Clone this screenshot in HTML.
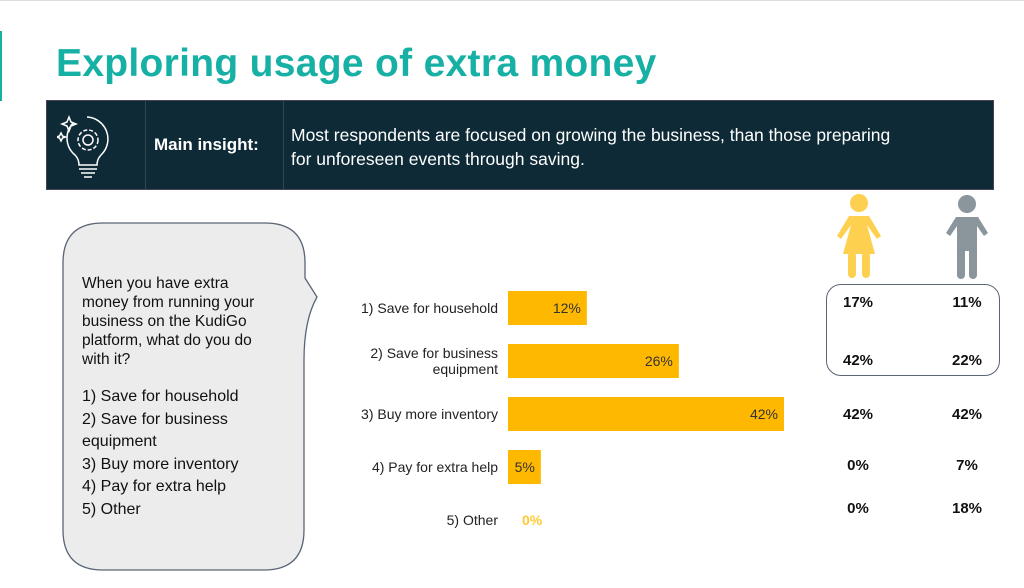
<!DOCTYPE html>
<html><head><meta charset="utf-8"><style>
body{margin:0;width:1024px;height:588px;background:#fff;position:relative;overflow:hidden;font-family:"Liberation Sans",sans-serif}
.a{position:absolute}
</style></head><body>
<div class="a" style="left:0;top:0;width:1024px;height:1px;background:#ddd"></div>
<div class="a" style="left:0;top:31px;width:2px;height:70px;background:#17b0a5"></div>
<div class="a" style="left:56px;top:42px;font-size:39px;font-weight:bold;color:#17b0a5;letter-spacing:0.3px">Exploring usage of extra money</div>
<div class="a" style="left:46px;top:100px;width:946px;height:88px;background:#0d2a36;border:1px solid #445">
 <div class="a" style="left:98px;top:0;width:1px;height:88px;background:#2d4651"></div>
 <div class="a" style="left:236px;top:0;width:1px;height:88px;background:#2d4651"></div>
 <svg class="a" style="left:10px;top:10px" width="60" height="70" viewBox="0 0 60 70" fill="none" stroke="#fff" stroke-width="1.5">
  <path d="M30 6 A22 22 0 0 1 44 44 Q40 48 40 54 H22 Q22 48 18 44 A22 22 0 0 1 16 12"/>
  <path d="M22 58 H40 M24 62 H38 M27 66 H35"/>
  <circle cx="31" cy="29" r="5"/><circle cx="31" cy="29" r="10" stroke-dasharray="4 2"/>
  <path d="M12 6 L14 11 L19 13 L14 15 L12 20 L10 15 L5 13 L10 11Z"/>
  <path d="M4 22 L5.5 25 L8.5 26 L5.5 27 L4 30 L2.5 27 L-0.5 26 L2.5 25Z"/>
 </svg>
 <div class="a" style="left:107px;top:34px;color:#fff;font-weight:bold;font-size:17px">Main insight:</div>
 <div class="a" style="left:244px;top:22px;color:#fff;font-size:17.5px;line-height:24px;width:700px">Most respondents are focused on growing the business, than those preparing<br>for unforeseen events through saving.</div>
</div>
<svg class="a" style="left:0;top:0" width="330" height="588">
 <path d="M103 223 H265 Q305 223 305 263 V278 L317 297 Q304 320 304 360 V530 Q304 570 264 570 H103 Q63 570 63 530 V263 Q63 223 103 223Z" fill="#ececec" stroke="#5a6576" stroke-width="1.3"/>
</svg>
<div class="a" style="left:82px;top:274px;font-size:15.5px;line-height:19px;color:#111;width:220px">When you have extra<br>money from running your<br>business on the KudiGo<br>platform, what do you do<br>with it?</div>
<div class="a" style="left:82px;top:386px;font-size:16px;line-height:22.5px;color:#111;width:220px">1) Save for household<br>2) Save for business<br>equipment<br>3) Buy more inventory<br>4) Pay for extra help<br>5) Other</div>
<svg id="chart" class="a" style="left:0;top:0" width="1024" height="588"></svg>
<svg class="a" style="left:835px;top:192px" width="50" height="86" viewBox="0 0 50 86" fill="#fdd04f">
 <circle cx="24" cy="11" r="9"/>
 <path d="M14 24 H34 L46 44 L42 47 L32 33 L40 62 H8 L16 33 L6 47 L2 44Z"/>
 <rect x="13" y="60" width="8" height="26" rx="4"/><rect x="27" y="60" width="8" height="26" rx="4"/>
</svg>
<svg class="a" style="left:944px;top:193px" width="46" height="86" viewBox="0 0 46 86" fill="#8a959c">
 <circle cx="23" cy="11" r="9"/>
 <path d="M12 24 H34 L44 40 L40 43 L33 33 V58 H13 V33 L6 43 L2 40Z"/>
 <rect x="13" y="54" width="8" height="32" rx="4"/><rect x="25" y="54" width="8" height="32" rx="4"/>
</svg>
<div class="a" style="left:826px;top:284px;width:172px;height:90px;border:1.3px solid #5a6576;border-radius:15px"></div>
<script>
const categories=["1) Save for household","2) Save for business\nequipment","3) Buy more inventory","4) Pay for extra help","5) Other"];
const values=[12,26,42,5,0];
const femaleValues=[17,42,42,0,0];
const maleValues=[11,22,42,7,18];
const svg=document.getElementById('chart');
const NS='http://www.w3.org/2000/svg';
const x0=508,pxPer=276/42,rowY0=308,rowStep=53,barH=34;
const xs=v=>x0+v*pxPer;
const ys=i=>rowY0+i*rowStep;
function t(x,y,s,attrs){const e=document.createElementNS(NS,'text');e.setAttribute('x',x);e.setAttribute('y',y);for(const k in attrs)e.setAttribute(k,attrs[k]);e.textContent=s;svg.appendChild(e);return e;}
categories.forEach((c,i)=>{
 const y=ys(i);
 const lines=c.split('\n');
 lines.forEach((ln,j)=>{
  const e=t(498,y+5+(j-(lines.length-1)/2)*16,ln,{'text-anchor':'end','font-size':'14','fill':'#222','font-family':'Liberation Sans, sans-serif'});
  
  
 });
 const v=values[i];
 if(v>0){
  const r=document.createElementNS(NS,'rect');
  r.setAttribute('x',x0);r.setAttribute('y',y-barH/2);r.setAttribute('width',xs(v)-x0);r.setAttribute('height',barH);r.setAttribute('fill','#ffb800');
  
  
  svg.appendChild(r);
  const l=t(xs(v)-6,y+5,v+'%',{'text-anchor':'end','font-size':'14','fill':'#333','font-family':'Liberation Sans, sans-serif'});
  
  
 } else {
  const l=t(x0+14,y+5,v+'%',{'font-size':'14','font-weight':'bold','fill':'#ffc933','font-family':'Liberation Sans, sans-serif'});
  
  
 }
 const dy=i==4?-7:(i==0?-1:(i==1?4:(i==2?5:3)));
 const f=t(858,y+dy,femaleValues[i]+'%',{'text-anchor':'middle','font-size':'15','font-weight':'bold','fill':'#111','font-family':'Liberation Sans, sans-serif'});
 
 
 const m=t(967,y+dy,maleValues[i]+'%',{'text-anchor':'middle','font-size':'15','font-weight':'bold','fill':'#111','font-family':'Liberation Sans, sans-serif'});
 
 
});
</script>
</body></html>
